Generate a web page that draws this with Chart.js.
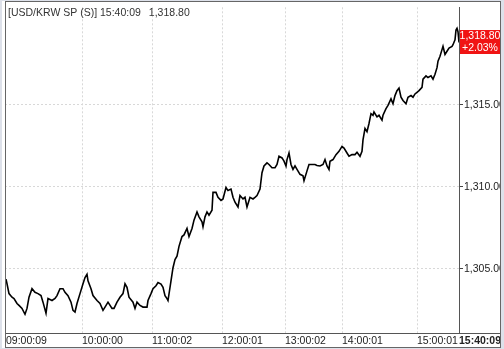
<!DOCTYPE html>
<html><head><meta charset="utf-8">
<script src="https://cdn.jsdelivr.net/npm/chart.js@4"></script>
<style>html,body{margin:0;padding:0;background:#fff;overflow:hidden}canvas{display:block}</style>
</head><body>
<canvas id="c" width="504" height="349" style="width:504px;height:349px"></canvas>
<script>
const symbolName = '[USD/KRW SP (S)]';
const lastTime = '15:40:09';
const changePct = '+2.03%';
const timeTickIdx = [0, 76, 146, 216, 279, 336, 411, 453];
const timeTickLabels = ['09:00:09','10:00:00','11:00:02','12:00:01','13:00:02','14:00:01','15:00:01','15:40:09'];
const priceTicks = [1305, 1310, 1315];
const seqIdx = [
  0,1,3,6,8,11,13,16,19,21,23,26,29,32,35,37,40,42,46,49,51,54,57,59,62,65,67,69,71,74,77,79,81,82,85,87,91,94,97,99,
  102,106,108,111,114,117,119,121,123,127,129,131,134,137,141,142,145,147,150,152,155,157,159,161,162,
  165,167,169,171,173,176,178,181,183,186,188,191,193,196,197,199,201,203,206,207,210,212,215,217,220,222,225,227,229,
  232,234,237,239,241,244,247,249,251,254,256,258,261,263,266,269,271,273,276,278,280,281,283,285,287,289,291,294,297,298,
  301,303,307,309,311,314,317,319,321,323,
  324,327,330,333,336,338,341,343,346,349,351,354,356,357,359,361,363,365,367,368,371,373,376,377,380,382,385,387,389,391,393,395,397,
  400,402,405,407,409,411,413,416,417,420,422,425,427,429,431,432,434,436,437,439,441,443,446,447,449,450,451,452,453
];
const prices = [
  1304.37,1304.09,1303.49,1303.27,1303.19,1302.89,1302.77,1302.59,1302.23,1302.59,1303.27,1303.79,1303.57,1303.49,1303.37,1302.97,1302.29,1303.19,1303.07,1303.19,
  1303.37,1303.79,1303.79,1303.57,1303.37,1302.97,1302.47,1302.37,1302.89,1303.49,1304.09,1304.47,1304.67,1304.27,1303.79,1303.37,1303.07,1302.89,1302.47,1302.67,
  1302.97,1302.59,1302.59,1302.97,1303.27,1303.49,1304.09,1303.87,1303.27,1302.97,1302.59,1302.97,1302.77,1302.67,1302.67,1303.07,1303.49,1303.79,1303.97,1304.17,1304.07,1303.87,1303.37,1303.19,1303.07,
  1304.27,1305.07,1305.57,1305.77,1306.37,1306.97,1307.07,1307.46,1306.97,1307.46,1307.97,1308.47,1308.17,1307.87,1307.57,1308.17,1308.47,1308.27,1308.57,1309.66,1309.66,1309.36,1309.17,1309.26,1309.96,1309.77,1309.86,1309.36,1309.06,
  1308.77,1309.47,1309.26,1309.36,1308.77,1309.36,1309.26,1309.36,1309.47,1309.86,1310.86,1311.27,1311.46,1311.36,1311.16,1311.16,1311.36,1311.86,1311.76,1311.56,1311.27,1311.66,1312.06,1311.36,1311.06,1311.27,1311.06,1310.76,1310.67,1310.37,
  1310.97,1311.36,1311.36,1311.36,1311.30,1311.27,1311.36,1311.66,1311.27,1311.06,
  1311.56,1311.66,1311.96,1312.16,1312.46,1312.36,1312.06,1311.86,1311.96,1311.96,1312.10,1311.86,1312.16,1312.86,1313.56,1313.36,1313.86,1314.46,1314.36,1314.56,1314.26,1314.36,1314.06,1314.36,1314.76,1314.96,1315.36,1315.06,1315.56,1315.86,1316.02,1315.46,1315.26,
  1315.06,1315.46,1315.56,1315.46,1315.66,1315.76,1315.86,1316.06,1316.56,1316.76,1316.66,1316.76,1316.56,1316.86,1317.26,1317.66,1317.96,1318.36,1318.56,1318.06,1318.26,1318.46,1318.56,1318.66,1318.96,1319.56,1319.66,1319.45,1318.80
];

const FONT = '"Liberation Sans", Arial, sans-serif';
const fmt = v => v.toLocaleString('en-US', {minimumFractionDigits: 2, maximumFractionDigits: 2});
const lastPrice = prices[prices.length - 1];

const decor = {
  id: 'decor',
  afterDraw(chart) {
    const ctx = chart.ctx;
    const y = chart.scales.y;
    const area = chart.chartArea;
    ctx.save();
    ctx.font = '10.5px ' + FONT;
    ctx.fillStyle = '#333';
    ctx.textBaseline = 'middle';
    ctx.textAlign = 'left';
    const t1 = symbolName + ' ' + lastTime;
    ctx.fillText(t1, 8, 13);
    ctx.fillText(fmt(lastPrice), 8 + ctx.measureText(t1).width + 8, 13);
    const py = Math.round(y.getPixelForValue(lastPrice));
    ctx.fillStyle = '#f01414';
    ctx.fillRect(area.right + 1, py - 12, 41, 24);
    ctx.fillStyle = '#fff';
    ctx.textAlign = 'center';
    ctx.fillText(fmt(lastPrice), area.right + 21, py - 5.5);
    ctx.fillText(changePct, area.right + 21, py + 6);
    ctx.strokeStyle = '#555';
    ctx.lineWidth = 1;
    ctx.beginPath();
    ctx.moveTo(area.right, area.bottom + 0.5);
    ctx.lineTo(501, area.bottom + 0.5);
    ctx.stroke();
    ctx.fillStyle = '#dde1ea';
    ctx.fillRect(501, 0, 3, 349);
    ctx.fillRect(0, 348, 504, 1);
    ctx.fillRect(0, 0, 504, 1);
    ctx.fillRect(0, 0, 2, 349);
    ctx.strokeStyle = '#666';
    ctx.strokeRect(5.5, 1.5, 495, 346);
    ctx.restore();
  }
};

new Chart(document.getElementById('c'), {
  type: 'line',
  data: {
    datasets: [{
      data: seqIdx.map((x, i) => ({x: x, y: prices[i]})),
      borderColor: '#000',
      borderWidth: 1.6,
      pointRadius: 0,
      tension: 0,
      fill: false
    }]
  },
  options: {
    responsive: false,
    animation: false,
    events: [],
    layout: {padding: {left: 5, top: 2, right: 0, bottom: 0}},
    plugins: {legend: {display: false}, tooltip: {enabled: false}, title: {display: false}},
    scales: {
      x: {
        type: 'linear',
        min: -1,
        max: 453,
        afterFit: s => { s.height = 16; },
        afterBuildTicks: s => { s.ticks = timeTickIdx.map(v => ({value: v})); },
        grid: {
          color: c => (c.tick && (c.tick.value === 0 || c.tick.value === 453)) ? 'rgba(0,0,0,0)' : '#d8d8d8',
          lineWidth: 1,
          drawTicks: false
        },
        border: {display: true, color: '#555', width: 1, dash: [2, 2]},
        ticks: {
          autoSkip: false,
          maxRotation: 0,
          align: 'start',
          padding: 2,
          color: '#222',
          font: c => ({family: FONT, size: 10.5, weight: (c.tick && c.tick.value === 453) ? 'bold' : 'normal'}),
          callback: v => { const i = timeTickIdx.indexOf(v); return i >= 0 ? timeTickLabels[i] : ''; }
        }
      },
      y: {
        type: 'linear',
        position: 'right',
        min: 1301.09,
        max: 1320.94,
        afterFit: s => { s.width = 45; },
        afterBuildTicks: s => { s.ticks = priceTicks.map(v => ({value: v})); },
        grid: {
          color: '#d8d8d8',
          lineWidth: 1,
          drawTicks: true,
          tickLength: 4,
          tickColor: '#444',
          tickBorderDash: []
        },
        border: {display: true, color: '#555', width: 1, dash: [2, 2]},
        ticks: {
          padding: 1,
          color: '#222',
          font: {family: FONT, size: 10.5},
          callback: v => fmt(v)
        }
      }
    }
  },
  plugins: [decor]
});
</script>
</body></html>
